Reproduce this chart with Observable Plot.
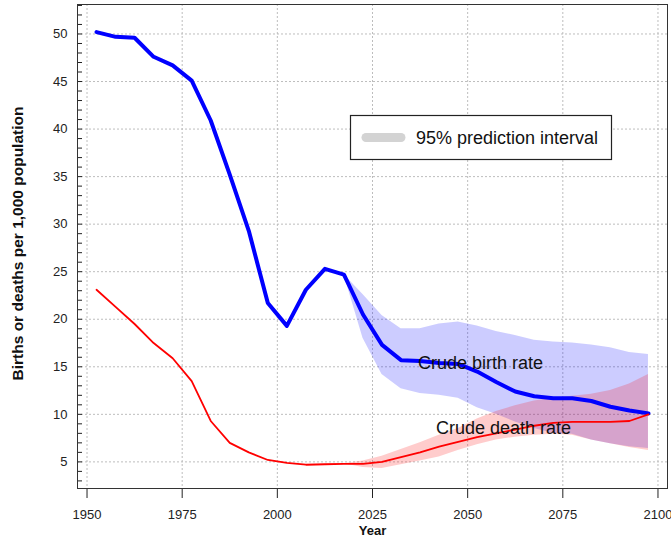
<!DOCTYPE html>
<html>
<head>
<meta charset="utf-8">
<script src="https://cdn.jsdelivr.net/npm/d3@7"></script>
<script src="https://cdn.jsdelivr.net/npm/@observablehq/plot@0.6"></script>
<style>
  html, body { margin: 0; padding: 0; background: #fff; }
  #chart { position: relative; width: 671px; height: 542px; }
</style>
</head>
<body>
<div id="chart"></div>
<script>
// Estimates (midpoints of 5-year periods)
const years = [1952.5, 1957.5, 1962.5, 1967.5, 1972.5, 1977.5, 1982.5, 1987.5, 1992.5, 1997.5,
  2002.5, 2007.5, 2012.5, 2017.5, 2022.5, 2027.5, 2032.5, 2037.5, 2042.5, 2047.5,
  2052.5, 2057.5, 2062.5, 2067.5, 2072.5, 2077.5, 2082.5, 2087.5, 2092.5, 2097.5];
const birthRate = [50.2, 49.7, 49.6, 47.6, 46.7, 45.1, 40.9, 35.2, 29.3, 21.7,
  19.3, 23.1, 25.3, 24.7, 20.5, 17.3, 15.7, 15.6, 15.4, 15.3,
  14.5, 13.4, 12.4, 11.9, 11.7, 11.7, 11.4, 10.8, 10.4, 10.1];
const deathRate = [23.1, 21.3, 19.5, 17.5, 15.9, 13.5, 9.3, 7.0, 6.0, 5.2,
  4.9, 4.7, 4.75, 4.8, 4.8, 5.0, 5.5, 6.0, 6.6, 7.1,
  7.6, 8.0, 8.4, 8.8, 9.1, 9.2, 9.2, 9.2, 9.3, 10.0];

// 95% prediction intervals (projection period)
const projYears = [2017.5, 2022.5, 2027.5, 2032.5, 2037.5, 2042.5, 2047.5, 2052.5, 2057.5,
  2062.5, 2067.5, 2072.5, 2077.5, 2082.5, 2087.5, 2092.5, 2097.5];
const birthLower = [24.7, 18.0, 14.2, 12.7, 12.2, 12.0, 11.7, 10.7, 10.0, 9.2, 8.5, 8.0, 7.9, 7.3, 6.9, 6.6, 6.4];
const birthUpper = [24.7, 22.6, 20.4, 19.0, 19.0, 19.5, 19.7, 19.3, 18.7, 18.3, 17.8, 17.6, 17.5, 17.3, 17.0, 16.5, 16.3];
const deathLower = [4.8, 4.4, 4.3, 4.7, 5.1, 5.5, 6.2, 6.8, 7.3, 7.6, 7.8, 7.9, 7.8, 7.3, 6.9, 6.5, 6.2];
const deathUpper = [4.8, 5.1, 5.6, 6.3, 7.0, 7.8, 8.5, 9.5, 10.3, 10.9, 11.4, 11.7, 11.9, 12.1, 12.5, 13.2, 14.2];

const xTicks = [1950, 1975, 2000, 2025, 2050, 2075, 2100];
const yTicks = [5, 10, 15, 20, 25, 30, 35, 40, 45, 50];
const yMinor = d3.range(3, 54);

const seriesLabels = [
  {year: 2053.4, value: 15.4, text: "Crude birth rate"},
  {year: 2059.4, value: 8.5, text: "Crude death rate"}
];
const yTitle = "Births or deaths per 1,000 population";
const xTitle = "Year";
const legendText = "95% prediction interval";

const est = years.map((y, i) => ({year: y, birth: birthRate[i], death: deathRate[i]}));
const proj = projYears.map((y, i) => ({year: y, bl: birthLower[i], bu: birthUpper[i], dl: deathLower[i], du: deathUpper[i]}));

const font = "'Liberation Sans', Arial, Helvetica, sans-serif";

const plot = Plot.plot({
  width: 671,
  height: 542,
  marginLeft: 77,
  marginRight: 4,
  marginTop: 4,
  marginBottom: 54,
  style: {fontFamily: font, fontSize: "13px", color: "#222", background: "white"},
  x: {domain: [1947.5, 2102.5]},
  y: {domain: [2.2, 53.1]},
  marks: [
    Plot.gridX(xTicks, {stroke: "#bdbdbd", strokeOpacity: 1, strokeDasharray: "2,2"}),
    Plot.gridY(yTicks, {stroke: "#bdbdbd", strokeOpacity: 1, strokeDasharray: "2,2"}),
    Plot.areaY(proj, {x: "year", y1: "bl", y2: "bu", fill: "#0000ff", fillOpacity: 0.2}),
    Plot.areaY(proj, {x: "year", y1: "dl", y2: "du", fill: "#ff0000", fillOpacity: 0.2}),
    Plot.lineY(est, {x: "year", y: "birth", stroke: "#0000ff", strokeWidth: 4, strokeLinejoin: "round"}),
    Plot.lineY(est, {x: "year", y: "death", stroke: "#ff0000", strokeWidth: 1.8}),
    Plot.text(seriesLabels, {x: "year", y: "value", text: "text", fontSize: 18, fill: "#111"}),
    Plot.axisX(xTicks, {tickSize: 10, tickPadding: 11, label: null, tickFormat: d => String(d), fontSize: 13}),
    Plot.axisY(yMinor, {tickSize: 5, dx: 5, text: null, label: null, stroke: "#222"}),
    Plot.axisY(yTicks, {tickSize: 0, tickPadding: 10, label: null, fontSize: 13}),
    Plot.frame({stroke: "#333", strokeWidth: 1}),
    Plot.text([yTitle], {frameAnchor: "left", dx: -59, dy: -3, rotate: -90, textAnchor: "middle", text: d => d, fontWeight: "bold", fontSize: 15.5, fill: "#111"}),
    Plot.text([xTitle], {frameAnchor: "bottom", dy: 46, textAnchor: "middle", text: d => d, fontWeight: "bold", fontSize: 13, fill: "#111"})
  ]
});

// Legend box
const svg = d3.select(plot);
const lg = svg.append("g").attr("class", "legend").attr("text-anchor", "start");
lg.append("rect").attr("x", 350.5).attr("y", 115.5).attr("width", 261).attr("height", 44)
  .attr("fill", "white").attr("stroke", "#222").attr("stroke-width", 1.2);
lg.append("line").attr("x1", 366).attr("x2", 401).attr("y1", 137.5).attr("y2", 137.5)
  .attr("stroke", "#d3d3d3").attr("stroke-width", 9).attr("stroke-linecap", "round");
lg.append("text").attr("x", 416).attr("y", 137.5).attr("dy", "0.35em").attr("text-anchor", "start")
  .attr("font-size", 18).attr("font-family", font).attr("fill", "#111").text(legendText);

document.getElementById("chart").appendChild(plot);
</script>
</body>
</html>
